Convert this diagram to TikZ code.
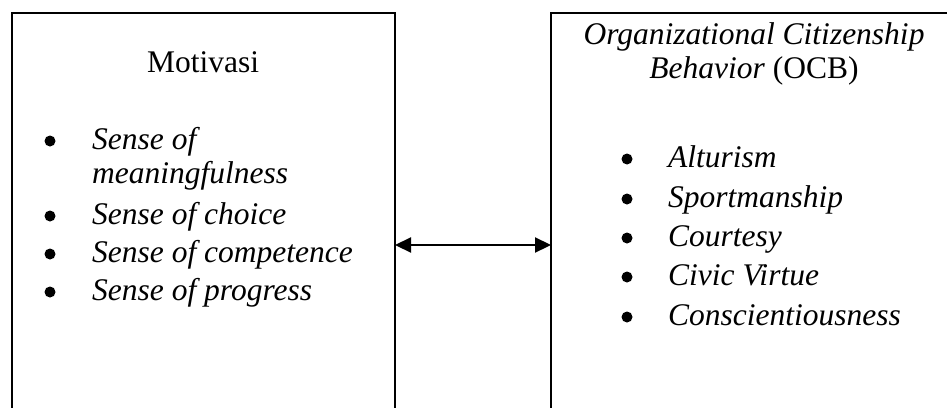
\documentclass[tikz,border=0pt]{standalone}
\usepackage{fontspec}
\setmainfont{Liberation Serif}
\usetikzlibrary{arrows.meta}
\tikzset{
  kotak/.style={draw,line width=2.5pt,inner sep=0pt,outer sep=0pt},
  poin/.style={circle,fill,inner sep=0pt,minimum size=11pt},
  butir/.style={anchor=base west,align=left,inner sep=0pt,font=\itshape\fontsize{31.5}{34}\selectfont},
  panah/.style={{Triangle[length=16pt,width=15pt]}-{Triangle[length=16pt,width=15pt]},line width=2.2pt},
}
\begin{document}
\begin{tikzpicture}[x=1pt,y=-1pt,font=\fontsize{31.5}{34}\selectfont]
\useasboundingbox (0,0) rectangle (947,407);
% kedua kotak terpotong di bawah (dan kanan)
\begin{scope}
\clip (0,0) rectangle (947,407);
\node[kotak,minimum width=383pt,minimum height=464pt] (motivasi) at (203.5,245) {};
\node[kotak,minimum width=430pt,minimum height=464pt] (ocb) at (766,245) {};
\end{scope}
\draw[panah] (motivasi.east) -- (ocb.west);

\node[anchor=base,inner sep=0pt] (judulkiri) at (203,72) {Motivasi};
% base = baris terakhir
\node[anchor=base,align=center,inner sep=0pt] (judulkanan) at (754,78)
  {\textit{Organizational Citizenship}\\\textit{Behavior} (OCB)};

% indikator motivasi (titik / baris akhir teks)
\foreach \yb/\yt/\isi [count=\i] in {149/183/{Sense of\\meaningfulness},224/224/Sense of choice,262/262/Sense of competence,300/300/Sense of progress}{
  \node[poin] (tk\i) at (50,\yb-8) {};
  \node[butir] (ik\i) at (92,\yt) {\isi};
}
% indikator OCB
\foreach \yy/\isi [count=\i] in {167/Alturism,207/Sportmanship,246/Courtesy,285/Civic Virtue,325/Conscientiousness}{
  \node[poin] (tn\i) at (627,\yy-8) {};
  \node[butir] (in\i) at (668,\yy) {\isi};
}
\end{tikzpicture}
\end{document}
